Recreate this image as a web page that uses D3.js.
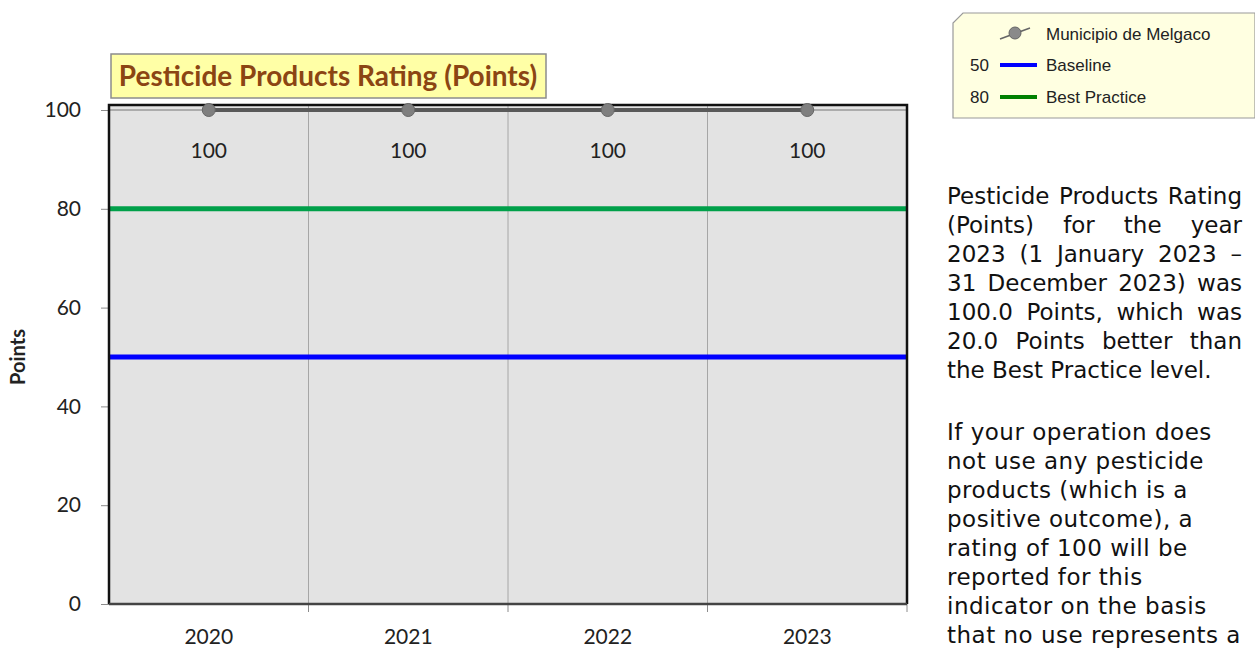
<!DOCTYPE html>
<html>
<head>
<meta charset="utf-8">
<script src="https://cdn.jsdelivr.net/npm/d3@7"></script>
<style>
  body { margin: 0; background: #fff; overflow: hidden; }
  #chart { position: absolute; left: 0; top: 0; }
  .note {
    position: absolute;
    left: 947px;
    font-family: "DejaVu Sans", Verdana, sans-serif;
    font-size: 23px;
    line-height: 29px;
    color: #111;
  }
</style>
</head>
<body>
<svg id="chart"></svg>
<div class="note" id="note1" style="top:182px;width:295px;text-align:justify;"></div>
<div class="note" id="note2" style="top:418px;white-space:nowrap;letter-spacing:0.5px;"></div>
<script>
const years = ["2020", "2021", "2022", "2023"];
const values = [100, 100, 100, 100];
const baseline = 50;
const bestPractice = 80;
const yTicks = [0, 20, 40, 60, 80, 100];
const seriesName = "Municipio de Melgaco";
const title = "Pesticide Products Rating (Points)";

const w = 1255;
const h = 649;
const m = { left: 109, right: 907, top: 110, bottom: 604 };

const svg = d3.select("#chart").attr("width", w).attr("height", h);

const x = d3.scaleBand().domain(years).range([m.left, m.right]);
const y = d3.scaleLinear().domain([0, 100]).range([m.bottom, m.top]);
const plotTop = y(101);

const axisFont = "Lato, 'Open Sans', sans-serif";

// plot background
svg.append("rect")
  .attr("x", m.left).attr("y", plotTop)
  .attr("width", m.right - m.left).attr("height", m.bottom - plotTop)
  .attr("fill", "#e3e3e3");

// vertical gridlines between categories
svg.append("g")
  .selectAll("line")
  .data(years.slice(1))
  .join("line")
  .attr("x1", (d) => x(d)).attr("x2", (d) => x(d))
  .attr("y1", plotTop).attr("y2", m.bottom)
  .attr("stroke", "#a6a6a6").attr("stroke-width", 1);

// gridline at 100
svg.append("line")
  .attr("x1", m.left).attr("x2", m.right)
  .attr("y1", y(100)).attr("y2", y(100))
  .attr("stroke", "#9a9a9a").attr("stroke-width", 1.5);

// y axis
const yAxis = svg.append("g")
  .attr("transform", `translate(${m.left},0)`)
  .call(d3.axisLeft(y).tickValues(yTicks).tickSize(8).tickPadding(20));
yAxis.select(".domain").remove();
yAxis.selectAll("line").attr("stroke", "#8c8c8c");
yAxis.selectAll("text")
  .attr("font-family", axisFont).attr("font-size", 21).attr("fill", "#222");

// x axis, ticks at category boundaries
const xAxis = svg.append("g")
  .attr("transform", `translate(0,${m.bottom})`)
  .call(d3.axisBottom(x).tickSize(0).tickPadding(25));
xAxis.select(".domain").remove();
xAxis.selectAll("text")
  .attr("font-family", axisFont).attr("font-size", 21).attr("fill", "#222");
svg.append("g")
  .selectAll("line")
  .data(years.slice(1).concat(["end"]))
  .join("line")
  .attr("x1", (d) => (d === "end" ? m.right : x(d)))
  .attr("x2", (d) => (d === "end" ? m.right : x(d)))
  .attr("y1", m.bottom).attr("y2", m.bottom + 8)
  .attr("stroke", "#8c8c8c");

// y axis title
svg.append("text")
  .attr("transform", "translate(25,357) rotate(-90)")
  .attr("text-anchor", "middle")
  .attr("font-family", axisFont).attr("font-weight", "bold")
  .attr("font-size", 20).attr("fill", "#222")
  .text("Points");

// reference lines
svg.append("line")
  .attr("x1", m.left).attr("x2", m.right)
  .attr("y1", y(bestPractice)).attr("y2", y(bestPractice))
  .attr("stroke", "#00a04a").attr("stroke-width", 5);
svg.append("line")
  .attr("x1", m.left).attr("x2", m.right)
  .attr("y1", y(baseline)).attr("y2", y(baseline))
  .attr("stroke", "#0000ff").attr("stroke-width", 5);

// frame
svg.append("path")
  .attr("d", `M${m.left},${m.bottom}V${plotTop}H${m.right}V${m.bottom}`)
  .attr("fill", "none").attr("stroke", "#111").attr("stroke-width", 2.5);
svg.append("line")
  .attr("x1", m.left).attr("x2", m.right)
  .attr("y1", m.bottom).attr("y2", m.bottom)
  .attr("stroke", "#444").attr("stroke-width", 2.5);

// series
const line = d3.line()
  .x((d, i) => x(years[i]) + x.bandwidth() / 2)
  .y((d) => y(d));
svg.append("path")
  .datum(values)
  .attr("d", line)
  .attr("fill", "none").attr("stroke", "#595959").attr("stroke-width", 4);
svg.append("g")
  .selectAll("circle")
  .data(values)
  .join("circle")
  .attr("cx", (d, i) => x(years[i]) + x.bandwidth() / 2)
  .attr("cy", (d) => y(d))
  .attr("r", 6.5)
  .attr("fill", "#7f7f7f").attr("stroke", "#666").attr("stroke-width", 1);
svg.append("g")
  .selectAll("text")
  .data(values)
  .join("text")
  .attr("x", (d, i) => x(years[i]) + x.bandwidth() / 2)
  .attr("y", (d) => y(d) + 48)
  .attr("text-anchor", "middle")
  .attr("font-family", axisFont).attr("font-size", 21).attr("fill", "#222")
  .text((d) => d);

// title box
svg.append("rect")
  .attr("x", 111).attr("y", 54).attr("width", 435).attr("height", 44)
  .attr("fill", "#ffffa6").attr("stroke", "#8c8c8c").attr("stroke-width", 1.5);
svg.append("text")
  .attr("x", 328).attr("y", 86)
  .attr("text-anchor", "middle")
  .attr("font-family", axisFont).attr("font-weight", "bold")
  .attr("font-size", 28).attr("fill", "#8b4513")
  .text(title);

// legend
const lg = svg.append("g").attr("transform", "translate(953,13)");
lg.append("path")
  .attr("d", "M10,0H302V105H0V10Z")
  .attr("fill", "#ffffe1").attr("stroke", "#9a9a9a").attr("stroke-width", 1.2);
const legendFont = "'Liberation Sans', Arial, sans-serif";
lg.append("line")
  .attr("x1", 47).attr("x2", 77).attr("y1", 26).attr("y2", 15)
  .attr("stroke", "#666").attr("stroke-width", 1.5);
lg.append("circle")
  .attr("cx", 62).attr("cy", 20).attr("r", 6)
  .attr("fill", "#8a8a8a").attr("stroke", "#666");
const legendRows = [
  { label: seriesName, value: null, color: null, y: 21 },
  { label: "Baseline", value: baseline, color: "#0000ff", y: 52 },
  { label: "Best Practice", value: bestPractice, color: "#008000", y: 84 },
];
legendRows.forEach((r) => {
  lg.append("text")
    .attr("x", 93).attr("y", r.y + 6)
    .attr("font-family", legendFont).attr("font-size", 17).attr("fill", "#222")
    .text(r.label);
  if (r.value !== null) {
    lg.append("text")
      .attr("x", 17).attr("y", r.y + 6)
      .attr("font-family", legendFont).attr("font-size", 17).attr("fill", "#222")
      .text(r.value);
    lg.append("line")
      .attr("x1", 47).attr("x2", 84).attr("y1", r.y).attr("y2", r.y)
      .attr("stroke", r.color).attr("stroke-width", 4);
  }
});

// commentary text
d3.select("#note1").text(
  "Pesticide Products Rating (Points) for the year 2023 (1 January 2023 \u2013 31 December 2023) was 100.0 Points, which was 20.0 Points better than the Best Practice level."
);
d3.select("#note2").html(
  "If your operation does<br>not use any pesticide<br>products (which is a<br>positive outcome), a<br>rating of 100 will be<br>reported for this<br>indicator on the basis<br>that no use represents a"
);
</script>
</body>
</html>
